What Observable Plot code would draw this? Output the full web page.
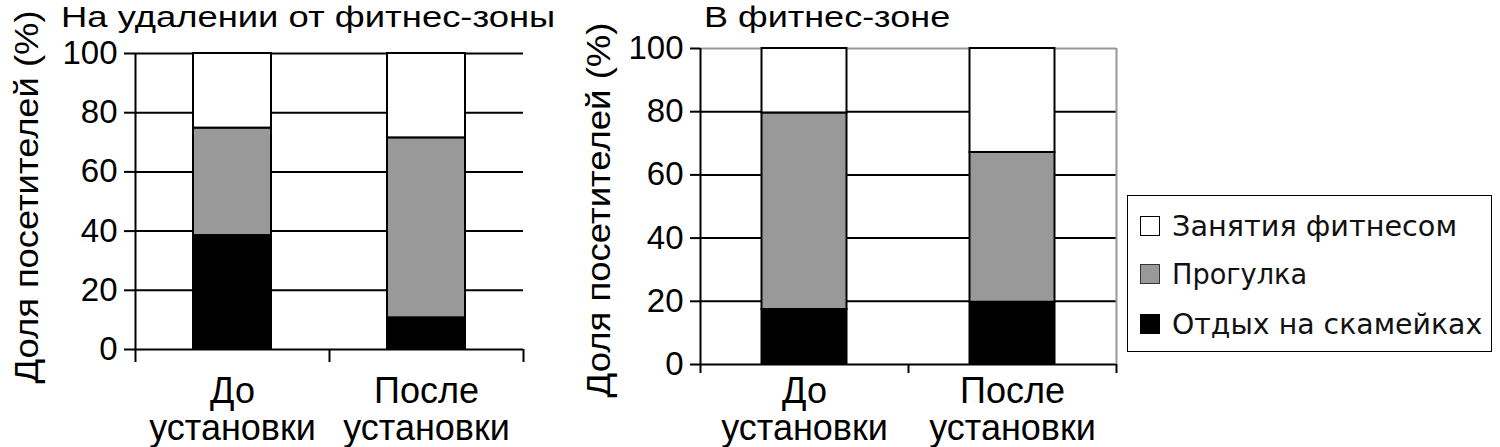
<!DOCTYPE html>
<html>
<head>
<meta charset="utf-8">
<script src="https://cdn.jsdelivr.net/npm/d3@7"></script>
<script src="https://cdn.jsdelivr.net/npm/@observablehq/plot@0.6"></script>
<style>
  html, body { margin: 0; padding: 0; background: #fff; }
  #root { position: relative; width: 1500px; height: 447px; overflow: hidden; background: #fff;
          font-family: "Liberation Sans", Arial, sans-serif; color: #000; }
  .abs { position: absolute; white-space: nowrap; line-height: 1.1; transform-origin: 0 0; }
  .ylab { transform-origin: 50% 50%; line-height: 1; }
  #legend { position: absolute; left: 1127px; top: 195px; width: 365px; height: 157px;
            border: 1.5px solid #000; box-sizing: border-box; font-family: "DejaVu Sans", Verdana, sans-serif; }
  .item { position: absolute; left: 12px; display: flex; align-items: center; }
  .sw { width: 20px; height: 20px; box-sizing: border-box; border: 1.5px solid #000; margin-right: 12px; flex: none; }
  .lt { display: inline-block; font-size: 29px; line-height: 1; transform-origin: 0 50%; white-space: nowrap; color: #111; }
</style>
</head>
<body>
<div id="root"></div>
<script>
// ---- data ----
const categories = ["До установки", "После установки"];
const tickLabels = ["До\nустановки", "После\nустановки"];
const series = ["Отдых на скамейках", "Прогулка", "Занятия фитнесом"]; // bottom → top
const legendOrder = ["Занятия фитнесом", "Прогулка", "Отдых на скамейках"];
const seriesColors = ["#000000", "#999999", "#ffffff"];
const yTicks = [0, 20, 40, 60, 80, 100];

// Panel 1: На удалении от фитнес-зоны
const farRest    = [38.5, 10.7];
const farWalk    = [36.3, 60.8];
const farFitness = [25.2, 28.5];
// Panel 2: В фитнес-зоне
const zoneRest    = [17.4, 19.7];
const zoneWalk    = [62.2, 47.4];
const zoneFitness = [20.4, 32.9];

const titles = ["На удалении от фитнес-зоны", "В фитнес-зоне"];
const yLabel = "Доля посетителей (%)";

function stackRows(rest, walk, fitness) {
  const vals = [rest, walk, fitness];
  const rows = [];
  categories.forEach((c, i) => {
    let acc = 0;
    series.forEach((s, k) => {
      const v = vals[k][i];
      rows.push({cat: c, i0: i, i1: i + 1, series: s, y1: acc, y2: acc + v});
      acc += v;
    });
  });
  return rows;
}

function panel(rows, opt) {
  return Plot.plot({
    width: opt.width, height: 447,
    marginLeft: opt.ml, marginRight: opt.mr, marginTop: opt.mt, marginBottom: opt.mb,
    x: {domain: [0, categories.length], axis: null},
    y: {domain: [0, 100], axis: null},
    color: {domain: series, range: seriesColors},
    style: {fontFamily: '"Liberation Sans", Arial, sans-serif', color: "#000", background: "transparent", overflow: "visible"},
    marks: [
      Plot.ruleY(yTicks.filter(t => t < 100), {stroke: "#000", strokeWidth: 2}),
      Plot.ruleY([100], {stroke: opt.topColor, strokeWidth: 2}),
      opt.rightBorder ? Plot.ruleX([categories.length], {y1: 0, y2: 100, stroke: "#999", strokeWidth: 2}) : null,
      Plot.rect(rows, {x1: "i0", x2: "i1", y1: "y1", y2: "y2", fill: "series",
        stroke: "#000", strokeWidth: 2, insetLeft: opt.inset, insetRight: opt.inset}),
      Plot.ruleX([0], {y1: 0, y2: 100, stroke: "#000", strokeWidth: 2}),
      Plot.axisY({ticks: yTicks, tickSize: opt.ytick, tickPadding: 7, fontSize: 33, strokeWidth: 2, label: null}),
      Plot.axisX({ticks: d3.range(categories.length + 1), tickSize: opt.xtick, tickFormat: () => "", strokeWidth: 2, label: null}),
      Plot.text(categories, {x: (d, i) => i + 0.5, y: () => 0, text: (d, i) => tickLabels[i],
        lineAnchor: "top", dy: opt.labDy, fontSize: 36, lineHeight: 1.03, fill: "#000"})
    ]
  });
}

const root = document.getElementById("root");

function place(el, left, top) {
  el.style.position = "absolute";
  el.style.left = left + "px";
  el.style.top = top + "px";
  root.appendChild(el);
}

const p1 = panel(stackRows(farRest, farWalk, farFitness),
  {width: 530, ml: 135, mr: 7, mt: 53, mb: 98, inset: 58, ytick: 11, xtick: 13, labDy: 27,
   topColor: "#000", rightBorder: false});
place(p1, 0, 0);

const p2 = panel(stackRows(zoneRest, zoneWalk, zoneFitness),
  {width: 560, ml: 135, mr: 9, mt: 48, mb: 83, inset: 61.5, ytick: 10, xtick: 9, labDy: 12,
   topColor: "#999", rightBorder: true});
place(p2, 565, 0);

// titles (stretched horizontally to the reference's wide lettering)
function addTitle(txt, left, top, size, targetW) {
  const d = document.createElement("div");
  d.className = "abs";
  d.textContent = txt;
  d.style.fontSize = size + "px";
  d.style.left = left + "px";
  d.style.top = top + "px";
  root.appendChild(d);
  const s = targetW / d.offsetWidth;
  d.style.transform = `scaleX(${s})`;
}
function addYLabel(txt, cx, cy, size, targetLen) {
  const d = document.createElement("div");
  d.className = "abs ylab";
  d.textContent = txt;
  d.style.fontSize = size + "px";
  root.appendChild(d);
  const w = d.offsetWidth, h = d.offsetHeight;
  d.style.left = (cx - w / 2) + "px";
  d.style.top = (cy - h / 2) + "px";
  const s = targetLen / w;
  d.style.transform = `rotate(-90deg) scaleX(${s})`;
}
addTitle(titles[0], 61, 0, 30, 494);
addTitle(titles[1], 704, 0, 30, 246);
addYLabel(yLabel, 26, 197, 34, 373);
addYLabel(yLabel, 598, 210, 34, 375);

// legend
const lg = document.createElement("div");
lg.id = "legend";
const rowCenters = [30, 78, 128];
const legendWidths = [285, 135, 310];
root.appendChild(lg);
legendOrder.forEach((s, k) => {
  const it = document.createElement("div");
  it.className = "item";
  it.style.top = (rowCenters[k] - 15) + "px";
  it.style.height = "30px";
  const sw = document.createElement("div");
  sw.className = "sw";
  sw.style.background = seriesColors[series.indexOf(s)];
  if (s === "Прогулка") sw.style.borderColor = "#333";
  const t = document.createElement("span");
  t.className = "lt";
  t.textContent = s;
  it.appendChild(sw); it.appendChild(t);
  lg.appendChild(it);
  const sc = legendWidths[k] / t.offsetWidth;
  t.style.transform = `scaleX(${sc})`;
});
</script>
</body>
</html>
